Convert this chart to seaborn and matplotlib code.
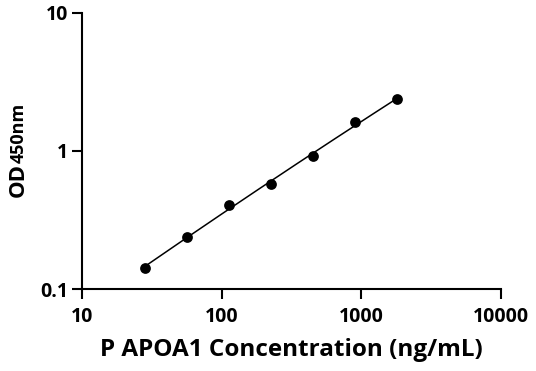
import numpy as np
import pandas as pd
import matplotlib
matplotlib.use("Agg")
import matplotlib.pyplot as plt
import matplotlib.ticker as mticker
import seaborn as sns

# Data
concentration = [28.125, 56.25, 112.5, 225, 450, 900, 1800]
od450 = [0.142, 0.240, 0.405, 0.574, 0.915, 1.62, 2.38]
x_ticks = [10, 100, 1000, 10000]
y_ticks = [0.1, 1, 10]
x_label = "P APOA1 Concentration (ng/mL)"

sns.set_theme(style="ticks")
plt.rcParams['font.family'] = ['Open Sans', 'DejaVu Sans']

df = pd.DataFrame({"conc": concentration, "od": od450})

# Smooth fitted curve (quadratic in log-log space) from the data
lx = np.log10(df["conc"].values)
ly = np.log10(df["od"].values)
coef = np.polyfit(lx, ly, 2)
fx = np.linspace(lx.min(), lx.max(), 200)
fit = pd.DataFrame({"conc": 10 ** fx, "od": 10 ** np.polyval(coef, fx)})

fig = plt.figure(figsize=(5.36, 3.71), dpi=100)
ax = fig.add_axes([0.153, 0.221, 0.782, 0.744])

sns.lineplot(data=fit, x="conc", y="od", ax=ax, color="black", linewidth=1.1, sort=False)
sns.scatterplot(data=df, x="conc", y="od", ax=ax, color="black", s=60, edgecolor="black", linewidth=0, zorder=3)

ax.set_xscale("log")
ax.set_yscale("log")
ax.set_xlim(10, 10000)
ax.set_ylim(0.1, 10)
ax.set_xticks(x_ticks)
ax.set_yticks(y_ticks)
ax.xaxis.set_major_formatter(mticker.FuncFormatter(lambda v, p: f"{v:g}"))
ax.yaxis.set_major_formatter(mticker.FuncFormatter(lambda v, p: f"{v:g}"))
ax.xaxis.set_minor_locator(mticker.NullLocator())
ax.yaxis.set_minor_locator(mticker.NullLocator())

for s in ["top", "right"]:
    ax.spines[s].set_visible(False)
for s in ["left", "bottom"]:
    ax.spines[s].set_linewidth(1.5)
    ax.spines[s].set_color("black")

ax.tick_params(axis="both", which="major", length=7, width=1.5, color="black",
               labelsize=14, labelcolor="black")
ax.tick_params(axis="x", pad=6)
ax.tick_params(axis="y", pad=3)
for lab in ax.get_xticklabels() + ax.get_yticklabels():
    lab.set_fontweight("bold")

ax.set_xlabel(x_label, fontsize=17.5, fontweight="bold", labelpad=8, color="black")
ax.set_ylabel("")

# Y label: "OD" + smaller "450nm" on same baseline
fig.canvas.draw()
renderer = fig.canvas.get_renderer()
xb = 23.5 / 536
y0 = 1 - 197 / 371
t1 = fig.text(xb, y0, "OD", rotation=90, rotation_mode="anchor", ha="left", va="baseline",
              fontsize=16, fontweight="bold", color="black")
fig.canvas.draw()
bb = t1.get_window_extent(renderer)
h = bb.height / 371
t2 = fig.text(xb, y0 + h, "450nm", rotation=90, rotation_mode="anchor", ha="left", va="baseline",
              fontsize=13, fontweight="bold", color="black")

fig.savefig("out.png", dpi=100, facecolor="white")
